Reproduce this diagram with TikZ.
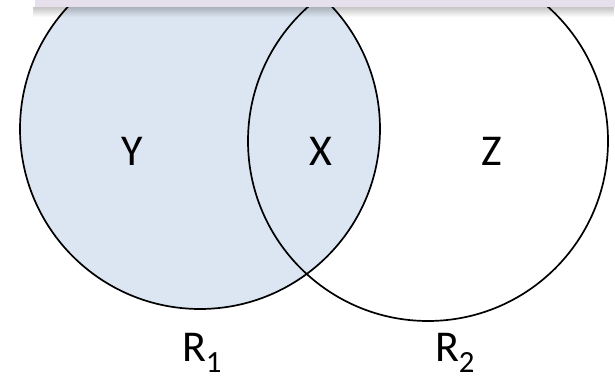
\documentclass[tikz,border=0pt]{standalone}
\usepackage{fontspec}
\setmainfont{Carlito}
\usepackage{xcolor}
\usetikzlibrary{fadings}

\definecolor{setblue}{HTML}{DCE6F2}
\definecolor{bandlilac}{HTML}{E6E0EC}

\tikzset{
  setline/.style={line width=1.7pt, black},
  setlabel/.style={font=\fontsize{44}{50}\selectfont, inner sep=0pt}
}

\begin{document}
\begin{tikzpicture}[x=1pt, y=-1pt]
\useasboundingbox (0,0) rectangle (615,382);
% the two relations
\fill[setblue] (200,129) circle (180);
\draw[setline] (200,129) circle (180);
\draw[setline] (428,141) circle (180);
% strip across the top
\fill[black, opacity=0.22, path fading=south] (33,7.5) rectangle (615,17);
\fill[bandlilac] (35,-2) rectangle (617,7.5);
\node[setlabel] (y) at (132.5,151) {Y};
\node[setlabel] (x) at (321,151) {X};
\node[setlabel] (z) at (492,151) {Z};
\node[setlabel, anchor=base] (r1) at (202,361) {R\textsubscript{1}};
\node[setlabel, anchor=base] (r2) at (455,361) {R\textsubscript{2}};
\end{tikzpicture}
\end{document}
